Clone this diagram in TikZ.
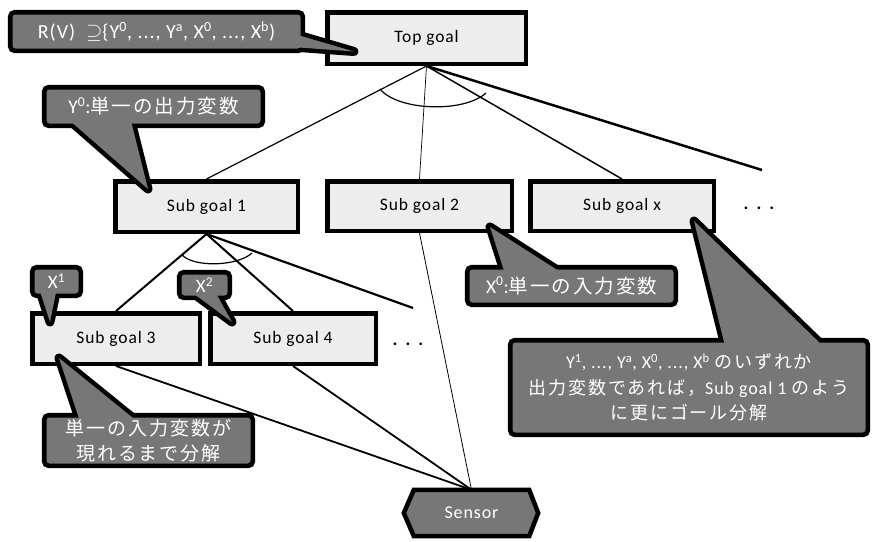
\documentclass[tikz,border=0pt]{standalone}
\usepackage{fontspec}
\setmainfont{Carlito}[LetterSpace=5]
\newfontfamily\jp{Noto Sans CJK JP}[LetterSpace=10]
\newfontfamily\dotsfont{Carlito}[LetterSpace=45]
\definecolor{boxfill}{RGB}{237,237,237}
\definecolor{callgray}{RGB}{119,119,119}
\pgfdeclarelayer{lines}
\pgfdeclarelayer{boxes}
\pgfdeclarelayer{cstroke}
\pgfdeclarelayer{cfill}
\pgfsetlayers{lines,boxes,cstroke,cfill,main}
\begin{document}
\begin{tikzpicture}[x=1pt,y=-1pt,
  goalbox/.style={draw=black,line width=4.5pt,fill=boxfill,inner sep=0pt,font=\fontsize{17.5}{20}\selectfont},
  callout/.style={fill=callgray,text=white,rounded corners=3pt,inner sep=0pt,align=center},
  cborder/.style={draw=black,line width=9pt,rounded corners=3pt},
  ptr/.style={draw=black,line width=9pt,line join=round},
  ptrfill/.style={fill=callgray},
  dotsnode/.style={font=\fontsize{18}{18}\dotsfont\bfseries,inner sep=0pt}
]
\useasboundingbox (0,0) rectangle (873,541);

% ---------- goal boxes ----------
\begin{pgfonlayer}{boxes}
\node[goalbox,minimum width=198.5pt,minimum height=51.5pt] (top) at (426.5,38) {Top goal};
\node[goalbox,minimum width=182.5pt,minimum height=50.5pt] (sub1) at (206.5,206.5) {Sub goal 1};
\node[goalbox,minimum width=184.5pt,minimum height=49.5pt] (sub2) at (419.5,206) {Sub goal 2};
\node[goalbox,minimum width=183.5pt,minimum height=49.5pt] (subx) at (622,206) {Sub goal x};
\node[goalbox,minimum width=167.5pt,minimum height=50.5pt] (sub3) at (116,338.5) {Sub goal 3};
\node[goalbox,minimum width=165.5pt,minimum height=50.5pt] (sub4) at (293,338.5) {Sub goal 4};
\node[minimum width=115pt,minimum height=46pt,inner sep=0pt] (sensor) at (471.5,513) {};
\draw[draw=black,line width=4.5pt,fill=callgray,line join=miter]
  (sensor.north west) -- (sensor.north east) -- ([xshift=9pt]sensor.east)
  -- (sensor.south east) -- (sensor.south west) -- ([xshift=-10pt]sensor.west) -- cycle;
\end{pgfonlayer}
\node[text=white,font=\fontsize{18}{20}\selectfont] (sensortext) at (sensor.center) {Sensor};

\node[dotsnode] (dots1) at (759,208) {...};
\node[dotsnode] (dots2) at (408,344) {...};

% ---------- connectors ----------
\coordinate (far1) at (762,170);
\coordinate (far2) at (413,308);
\begin{pgfonlayer}{lines}
\draw[line width=1.2pt] (top.south) -- (sub1.north);
\draw[line width=0.7pt] (top.south) -- (sub2.north);
\draw[line width=1.5pt] (top.south) -- (subx.north);
\draw[line width=2.5pt] (top.south) -- (far1);
\draw[line width=1.2pt] (380,89) .. controls (398,111) and (464,113) .. (486,93);
\draw[line width=2pt] (sub1.south) -- (sub3.north);
\draw[line width=2pt] (sub1.south) -- (sub4.north);
\draw[line width=2.2pt] (sub1.south) -- (far2);
\draw[line width=1.2pt] (182,255) .. controls (195,268) and (238,266) .. (252,253);
\draw[line width=0.8pt] (sub2.south) -- (sensor.north);
\draw[line width=1.8pt] (sub3.south) -- (sensor.north);
\draw[line width=1.8pt] (sub4.south) -- (sensor.north);
\end{pgfonlayer}

% ---------- callouts ----------
\node[callout,minimum width=288pt,minimum height=34pt,font=\fontsize{20}{22}\selectfont] (c1) at (156.5,31.5)
  {R(V)\ \ $\supseteq$\{Y\textsuperscript{0}, ..., Y\textsuperscript{a}, X\textsuperscript{0}, ..., X\textsuperscript{b})};
\node[callout,minimum width=214pt,minimum height=34pt,font=\fontsize{19.5}{21}\selectfont] (c2) at (153.5,106.5)
  {Y\textsuperscript{0}:{\jp 単一の出力変数}};
\node[callout,minimum width=44pt,minimum height=24pt,font=\fontsize{19}{20}\selectfont] (cx1) at (56.5,281.5)
  {X\textsuperscript{1}};
\node[callout,minimum width=46pt,minimum height=21pt,font=\fontsize{19}{20}\selectfont] (cx2) at (204.5,285)
  {X\textsuperscript{2}};
\node[callout,minimum width=204pt,minimum height=33pt,font=\fontsize{19.5}{21}\selectfont] (cx0) at (571.5,286)
  {X\textsuperscript{0}:{\jp 単一の入力変数}};
\node[callout,minimum width=353pt,minimum height=90pt,font=\fontsize{18}{25.5}\selectfont] (cbig) at (689,387.5)
  {Y\textsuperscript{1},\ ...,\ Y\textsuperscript{a},\ X\textsuperscript{0},\ ...,\ X\textsuperscript{b}\ {\jp のいずれか}\\
   {\jp 出力変数であれば，}Sub goal 1 {\jp のよう}\\
   {\jp に更にゴール分解}};
\node[callout,minimum width=204pt,minimum height=46pt,font=\fontsize{19}{25}\selectfont] (cbl) at (148.5,440.5)
  {{\jp 単一の入力変数が}\\{\jp 現れるまで分解}};

% pointer tips
\coordinate (t1) at (354,51.5);
\coordinate (t2) at (148,189);
\coordinate (tx1) at (50,322);
\coordinate (tx2) at (232,322);
\coordinate (tx0) at (490,227);
\coordinate (tbig) at (694,221);
\coordinate (tbl) at (59,358);

\begin{pgfonlayer}{cstroke}
\foreach \n in {c1,c2,cx1,cx2,cx0,cbig,cbl}
  \draw[cborder] (\n.south west) rectangle (\n.north east);
\draw[ptr] (292,33.3) -- (t1) -- (292,47) -- cycle;
\draw[ptr] (64.5,116) -- (t2) -- (129.8,116) -- cycle;
\draw[ptr] (39.6,290) -- (tx1) -- (56.5,290) -- cycle;
\draw[ptr] (191.4,292) -- (tx2) -- (215.2,292) -- cycle;
\draw[ptr] (504.7,273) -- (tx0) -- (562,273) -- cycle;
\draw[ptr] (725,346) -- (tbig) -- (823,346) -- cycle;
\draw[ptr] (79.8,421) -- (tbl) -- (136.7,421) -- cycle;
\end{pgfonlayer}
\begin{pgfonlayer}{cfill}
\fill[ptrfill] (292,33.3) -- (t1) -- (292,47) -- cycle;
\fill[ptrfill] (64.5,116) -- (t2) -- (129.8,116) -- cycle;
\fill[ptrfill] (39.6,290) -- (tx1) -- (56.5,290) -- cycle;
\fill[ptrfill] (191.4,292) -- (tx2) -- (215.2,292) -- cycle;
\fill[ptrfill] (504.7,273) -- (tx0) -- (562,273) -- cycle;
\fill[ptrfill] (725,346) -- (tbig) -- (823,346) -- cycle;
\fill[ptrfill] (79.8,421) -- (tbl) -- (136.7,421) -- cycle;
\end{pgfonlayer}
\end{tikzpicture}
\end{document}
